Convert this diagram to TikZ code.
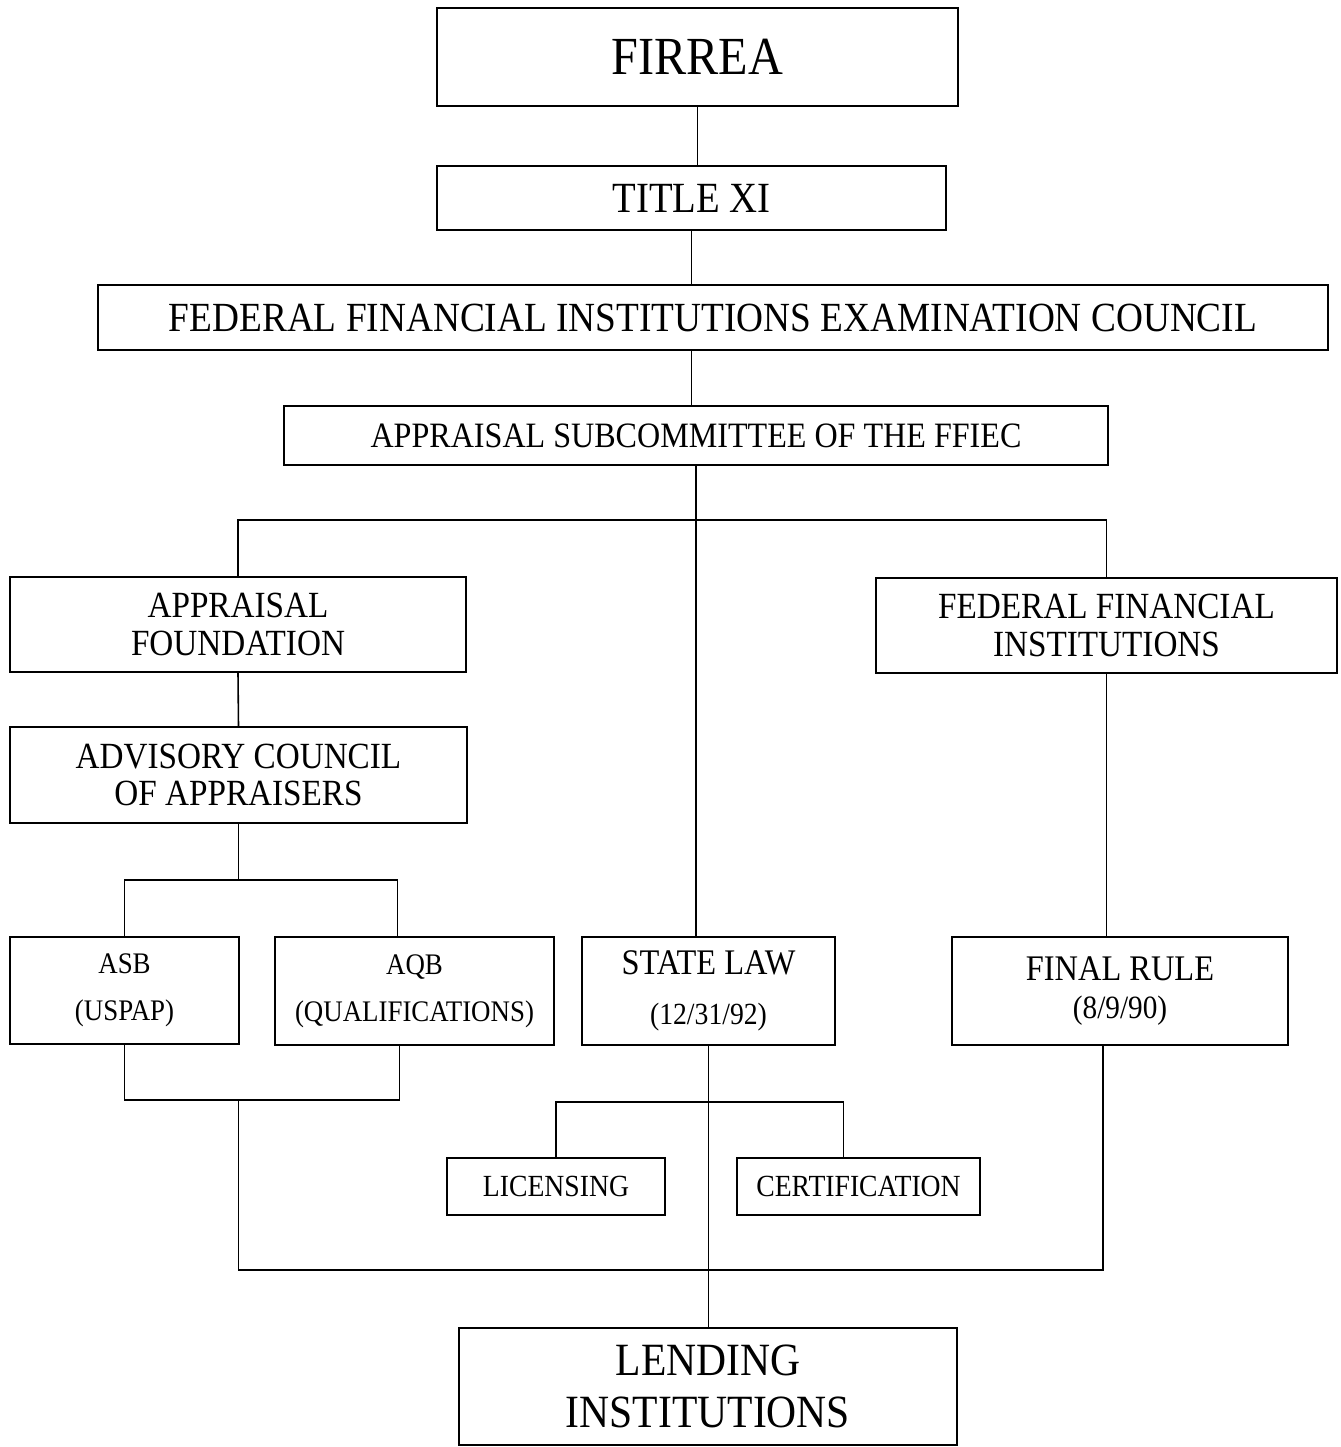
\documentclass[tikz,border=0pt]{standalone}
\usepackage{fontspec}
\setmainfont{Liberation Serif}[FakeStretch=0.9]
\usetikzlibrary{positioning,calc}

\begin{document}
\begin{tikzpicture}[x=0.02cm,y=-0.02cm,
  box/.style={draw,line width=1.3pt,inner sep=0pt,align=center},
  conn/.style={line width=0.9pt},
  mid/.style={font=\fontsize{21}{21.5}\selectfont},
  small/.style={font=\fontsize{17}{27}\selectfont}]
    \useasboundingbox (0,0) rectangle (1341,1447);

    % levels of the horizontal buses
    \coordinate (topbus) at (0,520);
    \coordinate (midbus) at (0,880);
    \coordinate (lowbus) at (0,1100);
    \coordinate (statebus) at (0,1102);
    \coordinate (basebus) at (0,1270);

    \node[box,font=\fontsize{30.5}{32}\selectfont,minimum width=10.42cm,minimum height=1.96cm] (firrea) at (697.5,57) {FIRREA};
    \node[box,font=\fontsize{24.5}{26}\selectfont,minimum width=10.18cm,minimum height=1.28cm] (title) at (691.5,198) {TITLE XI};
    \node[box,font=\fontsize{23.6}{26}\selectfont,minimum width=24.6cm,minimum height=1.3cm] (ffiec) at (713,317.5) {FEDERAL FINANCIAL INSTITUTIONS EXAMINATION COUNCIL};
    \node[box,font=\fontsize{20.3}{22}\selectfont,minimum width=16.48cm,minimum height=1.18cm] (sub) at (696,435.5) {APPRAISAL SUBCOMMITTEE OF THE FFIEC};

    \node[box,mid,minimum width=9.12cm,minimum height=1.9cm] (found) at (238,624.5) {APPRAISAL\\FOUNDATION};
    \node[box,mid,minimum width=9.22cm,minimum height=1.9cm] (ffi) at (1106.5,625.5) {FEDERAL FINANCIAL\\INSTITUTIONS};
    \node[box,mid,minimum width=9.14cm,minimum height=1.92cm] (adv) at (238.5,775) {ADVISORY COUNCIL\\OF APPRAISERS};

    \node[box,small,minimum width=4.58cm,minimum height=2.14cm] (asb) at (124.5,990.5) {ASB\\(USPAP)};
    \node[box,small,minimum width=5.58cm,minimum height=2.16cm] (aqb) at (414.5,991) {AQB\\(QUALIFICATIONS)};
    \node[box,minimum width=5.06cm,minimum height=2.16cm] (state) at (708.5,991) {\fontsize{20.5}{21}\selectfont STATE LAW\\[15pt]\fontsize{17.5}{18}\selectfont (12/31/92)};
    \node[box,minimum width=6.72cm,minimum height=2.16cm] (final) at (1120,991) {\fontsize{20.5}{21}\selectfont FINAL RULE\\[8pt]\fontsize{18.5}{19}\selectfont (8/9/90)};

    \node[box,font=\fontsize{17.5}{18}\selectfont,minimum width=4.36cm,minimum height=1.14cm] (lic) at (556,1186.5) {LICENSING};
    \node[box,font=\fontsize{17.5}{18}\selectfont,minimum width=4.86cm,minimum height=1.14cm] (cert) at (858.5,1186.5) {CERTIFICATION};

    \node[box,font=\fontsize{26.3}{29.5}\selectfont,minimum width=9.96cm,minimum height=2.34cm] (lend) at (708,1386.5) {LENDING\\INSTITUTIONS};

    \draw[conn] (firrea.south) -- (firrea.south |- title.north);
    \draw[conn] (title.south) -- (title.south |- ffiec.north);
    \draw[conn] (ffiec.south -| title.south) -- (sub.north -| title.south);
    \draw[conn] (sub.south) -- (sub.south |- state.north);
    \draw[conn] (found.north) |- (topbus -| ffi.north) -- (ffi.north);
    \draw[conn] (found.south) -- (adv.north);
    \draw[conn] (adv.south) -- (adv.south |- midbus);
    \draw[conn] (asb.north) |- ([xshift=-0.34cm]midbus -| aqb.north) -- ([xshift=-0.34cm]aqb.north);
    \draw[conn] (asb.south) |- ([xshift=-0.3cm]lowbus -| aqb.south) -- ([xshift=-0.3cm]aqb.south);
    \draw[conn] (lowbus -| adv.south) |- ([xshift=-0.34cm]basebus -| final.south) -- ([xshift=-0.34cm]final.south);
    \draw[conn] (ffi.south) -- (ffi.south |- final.north);
    \draw[conn] (lic.north) |- ([xshift=-0.3cm]statebus -| cert.north) -- ([xshift=-0.3cm]cert.north);
    \draw[conn] (state.south) -- (state.south |- lend.north);
\end{tikzpicture}
\end{document}
